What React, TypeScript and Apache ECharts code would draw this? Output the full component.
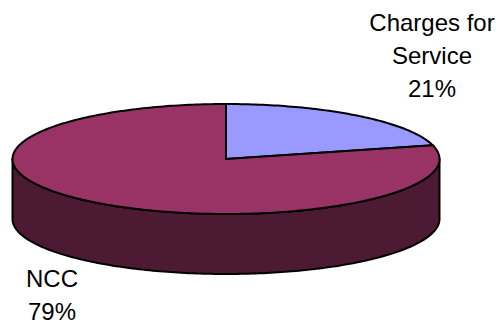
import React, { useEffect, useRef } from "react";
import * as echarts from "echarts";

const categories = ["Charges for\nService", "NCC"];
const values = [21, 79];
const topColors = ["#9999FF", "#993366"];
const sideColors = ["#4D4D80", "#4D1A33"];

// label anchor positions (pixels) for each slice
const LABEL_POS: [number, number][] = [
  [432, 55],
  [52, 295],
];

const CX = 226;
const CY = 159;
const RX = 213.5;
const RY = 55;
const DEPTH = 60;
const STROKE = "#000000";
const LW = 2;

function pt(theta: number, dy = 0): [number, number] {
  const r = (theta * Math.PI) / 180;
  return [CX + RX * Math.sin(r), CY - RY * Math.cos(r) + dy];
}

function arcPoints(a0: number, a1: number, dy = 0): [number, number][] {
  const pts: [number, number][] = [];
  const n = Math.max(2, Math.ceil(Math.abs(a1 - a0) / 1));
  for (let i = 0; i <= n; i++) {
    pts.push(pt(a0 + ((a1 - a0) * i) / n, dy));
  }
  return pts;
}

export default function App() {
  const ref = useRef<HTMLDivElement>(null);
  useEffect(() => {
    document.body.style.margin = "0";
    if (!ref.current) return;
    const chart = echarts.init(ref.current, undefined, { renderer: "svg" });
    const total = values.reduce((a, b) => a + b, 0);
    const starts: number[] = [];
    let acc = 0;
    values.forEach((v) => {
      starts.push((acc / total) * 360);
      acc += v;
    });

    chart.setOption({
      animation: false,
      backgroundColor: "#ffffff",
      textStyle: { fontFamily: "Liberation Sans" },
      series: [
        {
          type: "custom",
          coordinateSystem: "none",
          data: values.map((v, i) => ({ value: v, name: categories[i] })),
          renderItem: (params: any, api: any) => {
            const i = params.dataIndex;
            const v = api.value(0);
            const a0 = starts[i];
            const a1 = a0 + (v / total) * 360;
            const children: any[] = [];
            // visible front side: theta in [90, 270]
            const s0 = Math.max(a0, 90);
            const s1 = Math.min(a1, 270);
            if (s1 > s0) {
              const top = arcPoints(s0, s1, 0);
              const bottom = arcPoints(s1, s0, DEPTH);
              children.push({
                type: "polygon",
                shape: { points: top.concat(bottom) },
                style: { fill: sideColors[i], stroke: STROKE, lineWidth: LW, lineJoin: "round" },
              });
            }
            const facePts: [number, number][] = [[CX, CY]].concat(arcPoints(a0, a1, 0)) as any;
            children.push({
              type: "polygon",
              shape: { points: facePts },
              style: { fill: topColors[i], stroke: STROKE, lineWidth: LW, lineJoin: "miter" },
            });
            const pct = Math.round((v / total) * 100);
            children.push({
              type: "text",
              x: LABEL_POS[i][0],
              y: LABEL_POS[i][1],
              style: {
                text: categories[i] + "\n" + pct + "%",
                fill: "#000000",
                font: "24px 'Liberation Sans'",
                align: "center",
                verticalAlign: "middle",
                lineHeight: 33,
              },
            });
            return { type: "group", children };
          },
        },
      ],
    });
    return () => chart.dispose();
  }, []);
  return <div ref={ref} style={{ width: 501, height: 326 }} />;
}
